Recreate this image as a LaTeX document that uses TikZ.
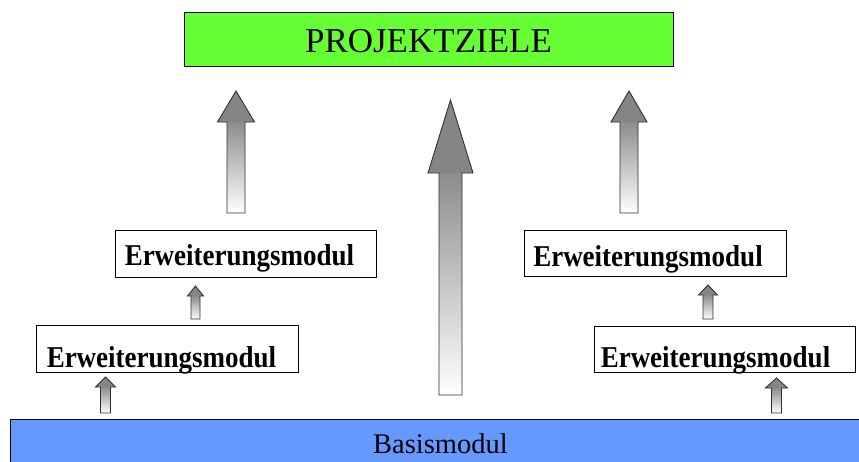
\documentclass[tikz,border=0pt]{standalone}
\usepackage{fontspec}
\usepackage{graphicx}
\setmainfont{Liberation Serif}
\definecolor{zielgreen}{HTML}{66FF33}
\definecolor{basisblue}{HTML}{6699FF}
\definecolor{headgray}{HTML}{858585}
\definecolor{shafttop}{HTML}{8C8C8C}
\definecolor{arrowline}{HTML}{303030}
\newcommand\modtext{\scalebox{1}[1.12]{Erweiterungsmodul}}
\newcommand\blockarrow[7]{% name, x, ybottom, ytip, shaft half width, head half width, head base y
  \coordinate (#1-tail) at (#2,#3);
  \coordinate (#1-tip) at (#2,#4);
  \shade[top color=shafttop, bottom color=white] (#2-#5,#3) rectangle (#2+#5,#7);
  \fill[headgray] (#2-#6,#7) -- (#1-tip) -- (#2+#6,#7) -- cycle;
  \draw[blockline] (#2-#5,#3) -- (#2-#5,#7) -- (#2-#6,#7) -- (#1-tip) -- (#2+#6,#7) -- (#2+#5,#7) -- (#2+#5,#3) -- cycle;
}
\begin{document}
\begin{tikzpicture}[x=1pt,y=-1pt,
  blockline/.style={draw=arrowline, line width=0.9pt, line join=miter},
  boxbase/.style={draw=black, line width=0.9pt, rectangle, inner xsep=0pt, inner ysep=0pt, anchor=base},
  zielbox/.style={boxbase, fill=zielgreen, font=\fontsize{35}{40}\selectfont},
  basisbox/.style={boxbase, fill=basisblue, font=\fontsize{28.5}{32}\selectfont},
  modbox/.style={boxbase, fill=white, font=\fontsize{27}{30}\selectfont\bfseries}]
\useasboundingbox (0,0) rectangle (859,461);
\fill[white] (0,0) rectangle (859,461);
\begin{scope}
\clip (0,0) rectangle (859,461);
\node[zielbox, minimum width=489pt, text height=40pt, text depth=14pt] (ziel) at (428.5,52) {PROJEKTZIELE};
\node[basisbox, minimum width=861pt, text height=34pt, text depth=17pt] (basis) at (440.5,453) {Basismodul};
\node[modbox, minimum width=261pt, text height=35pt, text depth=12pt] (e1) at (245.5,265) {\modtext\kern12pt};
\node[modbox, minimum width=262pt, text height=42pt, text depth=5pt] (e2) at (167,367) {\modtext\kern11pt};
\node[modbox, minimum width=262pt, text height=36pt, text depth=10pt] (e3) at (655,266) {\modtext\kern14pt};
\node[modbox, minimum width=261pt, text height=41pt, text depth=5pt] (e4) at (724.5,367) {\modtext\kern18pt};
\end{scope}
% big arrows towards the goals
\blockarrow{bl}{236}{213}{91}{9}{18.5}{122}
\blockarrow{bc}{450.5}{395}{100}{11.5}{22.5}{173}
\blockarrow{br}{629}{213}{91}{9}{18}{122}
% small arrows between modules
\blockarrow{sl1}{195.5}{319}{286}{4.5}{8}{296}
\blockarrow{sr1}{708}{319}{285}{5}{9.5}{295}
\blockarrow{sl0}{105.5}{413}{377}{5}{10}{387}
\blockarrow{sr0}{776.5}{413}{378}{5}{11}{388}
\end{tikzpicture}
\end{document}
